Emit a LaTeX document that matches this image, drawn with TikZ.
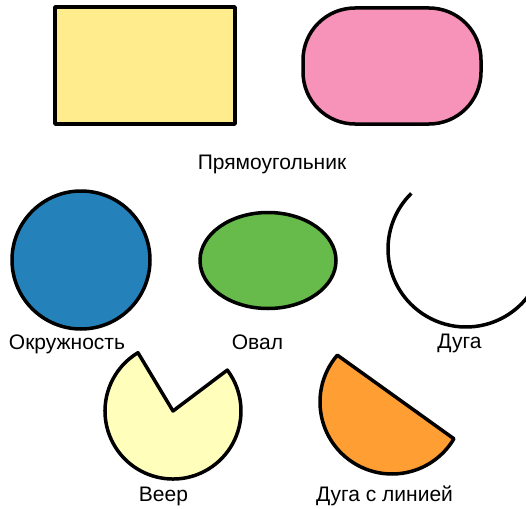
\documentclass[tikz,border=0pt]{standalone}
\usepackage{fontspec}
\setmainfont{Liberation Sans}
\usetikzlibrary{shapes.geometric}
\definecolor{cYellow}{RGB}{255,236,140}
\definecolor{cPink}{RGB}{247,146,184}
\definecolor{cBlue}{RGB}{37,129,186}
\definecolor{cGreen}{RGB}{102,187,75}
\definecolor{cPale}{RGB}{255,255,187}
\definecolor{cOrange}{RGB}{255,158,51}
\tikzset{
  shapebox/.style={draw=black,line width=3.5pt,inner sep=0pt,line join=round},
  lbl/.style={anchor=base,inner sep=0pt,font=\fontsize{21}{25}\selectfont}
}
\begin{document}
\begin{tikzpicture}[x=1pt,y=-1pt]
  \useasboundingbox (0,0) rectangle (526,508);
  \begin{scope}
  \clip (0,0) rectangle (526,508);

  % top row
  \node[shapebox,fill=cYellow,minimum width=180pt,minimum height=117pt] (rect) at (145,65.5) {};
  \node[shapebox,fill=cPink,rounded corners=52pt,minimum width=178pt,minimum height=116pt] (stadium) at (392,66) {};

  % middle row
  \node[shapebox,circle,fill=cBlue,minimum size=138pt] (circ) at (81,260) {};
  \node[shapebox,ellipse,fill=cGreen,minimum width=136pt,minimum height=96pt] (oval) at (268,260.5) {};
  \coordinate (arcc) at (466,249);
  \draw[shapebox] (arcc) ++(-134.5:78) arc[start angle=-134.5,end angle=-335,radius=78];

  % bottom row
  \coordinate (fanc) at (173,411);
  \draw[shapebox,fill=cPale] (fanc) -- ++(-121:68) arc[start angle=-121,end angle=-397,radius=68] -- cycle;
  \coordinate (chordc) at (392,402);
  \draw[shapebox,fill=cOrange] (chordc) ++(-139.4:72) arc[start angle=-139.4,end angle=-329.3,radius=72] -- cycle;
  \end{scope}

  % labels
  \node[lbl] (rectlbl) at (272,169) {Прямоугольник};
  \node[lbl] (circlbl) at (67,349) {Окружность};
  \node[lbl] (ovallbl) at (257.5,349) {Овал};
  \node[lbl] (arclbl) at (459.5,348) {Дуга};
  \node[lbl] (fanlbl) at (163.5,501) {Веер};
  \node[lbl] (chordlbl) at (384.5,501) {Дуга с линией};
\end{tikzpicture}
\end{document}
